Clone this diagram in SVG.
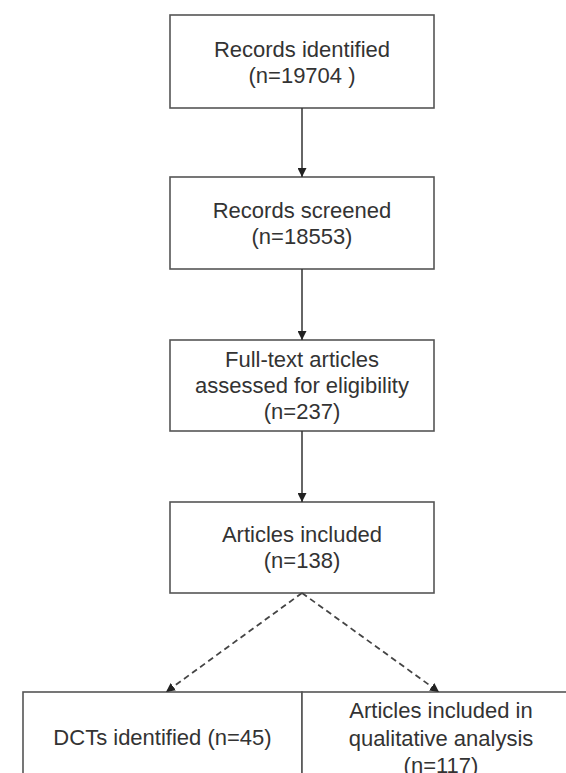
<svg xmlns="http://www.w3.org/2000/svg" width="566" height="773" viewBox="0 0 566 773">
<style>
.box{fill:#fff;stroke:#555;stroke-width:1.6}
.t{font-family:"Liberation Sans",Arial,sans-serif;font-size:22px;fill:#333;text-anchor:middle}
.c{stroke:#333;stroke-width:1.5;fill:none}
.d{stroke:#444;stroke-width:1.8;fill:none;stroke-dasharray:6 4}
</style>
<defs>
<marker id="ah" viewBox="0 0 10 10" refX="10" refY="5" markerWidth="9" markerHeight="9" markerUnits="userSpaceOnUse" orient="auto">
<path d="M0,0 L10,5 L0,10 z" fill="#222"/>
</marker>
</defs>
<rect width="566" height="773" fill="#fff"/>
<g id="n1"><rect class="box" x="170" y="15" width="264" height="93"/>
<text class="t" x="302" y="57">Records identified</text>
<text class="t" x="302" y="83">(n=19704 )</text></g>
<g id="n2"><rect class="box" x="170" y="177" width="264" height="92"/>
<text class="t" x="302" y="218">Records screened</text>
<text class="t" x="302" y="244">(n=18553)</text></g>
<g id="n3"><rect class="box" x="170" y="340" width="264" height="91"/>
<text class="t" x="302" y="367">Full-text articles</text>
<text class="t" x="302" y="393">assessed for eligibility</text>
<text class="t" x="302" y="419">(n=237)</text></g>
<g id="n4"><rect class="box" x="170" y="502" width="264" height="91"/>
<text class="t" x="302" y="542">Articles included</text>
<text class="t" x="302" y="568">(n=138)</text></g>
<g id="n5"><rect class="box" x="23" y="692" width="279" height="100"/>
<text class="t" x="162.5" y="745">DCTs identified (n=45)</text></g>
<g id="n6"><rect class="box" x="302" y="692" width="279" height="100"/>
<text class="t" x="441" y="718">Articles included in</text>
<text class="t" x="441" y="746">qualitative analysis</text>
<text class="t" x="441" y="773">(n=117)</text></g>
<g id="connectors">
<line class="c" x1="302" y1="108" x2="302" y2="177" marker-end="url(#ah)"/>
<line class="c" x1="302" y1="269" x2="302" y2="340" marker-end="url(#ah)"/>
<line class="c" x1="302" y1="431" x2="302" y2="502" marker-end="url(#ah)"/>
<line class="d" x1="302" y1="593" x2="166" y2="692" marker-end="url(#ah)"/>
<line class="d" x1="302" y1="593" x2="439" y2="692" marker-end="url(#ah)"/>
</g>
</svg>
